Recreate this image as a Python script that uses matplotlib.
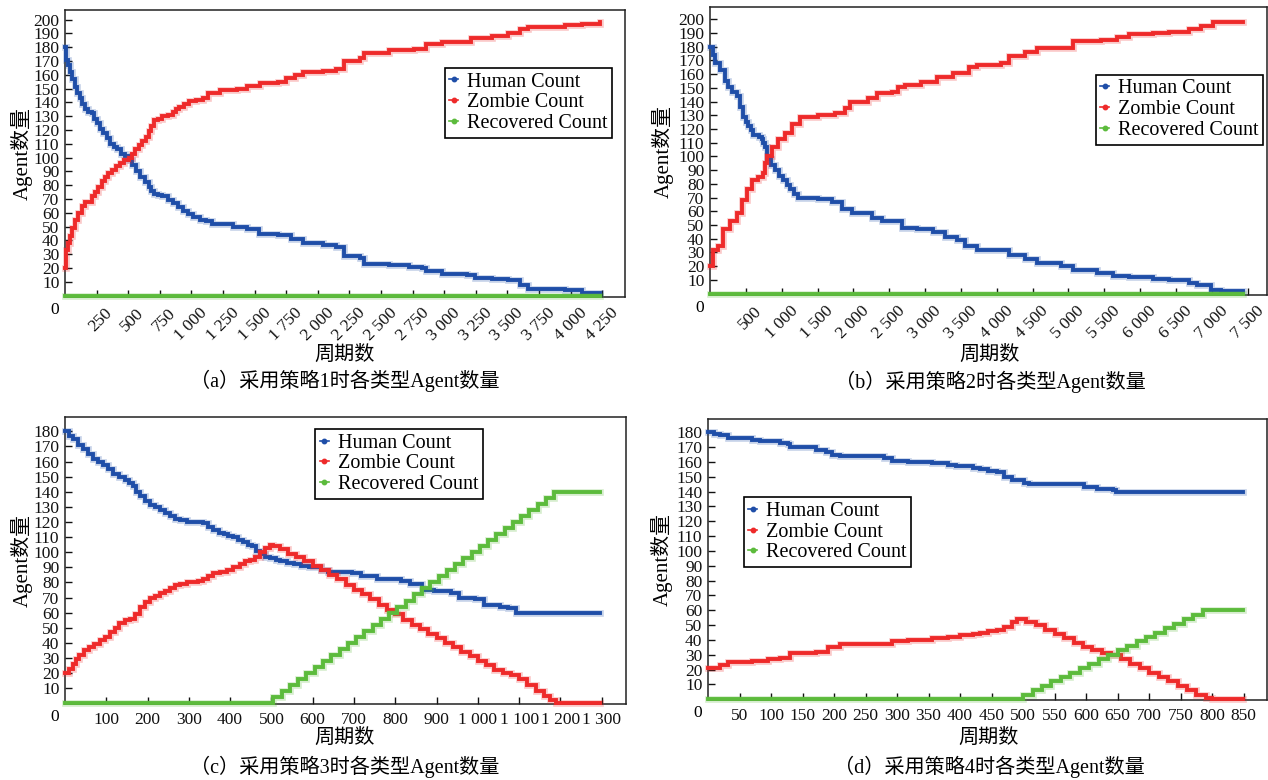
import matplotlib
matplotlib.use("Agg")
import matplotlib.pyplot as plt
from matplotlib.lines import Line2D
from matplotlib.transforms import ScaledTranslation

plt.rcParams['font.family'] = ['Liberation Serif', 'Noto Sans CJK SC']
plt.rcParams['axes.unicode_minus'] = False

# ---------------- data ----------------
SERIES_NAMES = ["Human Count", "Zombie Count", "Recovered Count"]

# (a) strategy 1
AH_X = [0, 5, 11, 20, 37, 55, 77, 97, 117, 137, 157, 180, 211, 231, 251, 278, 304, 330, 357, 384,
        411, 444, 477, 504, 531, 564, 597, 630, 664, 684, 704, 737, 771, 811, 851, 891, 931, 971,
        1011, 1064, 1117, 1160, 1331, 1437, 1531, 1687, 1784, 1882, 2044, 2141, 2206, 2336, 2368,
        2563, 2725, 2822, 2855, 2984, 3179, 3244, 3374, 3504, 3601, 3666, 3958, 4088, 4233]
AH_Y = [180, 175, 171, 167, 162, 157, 151, 147, 143, 139, 135, 133, 132, 128, 125, 121, 118, 114, 110,
        108, 106, 103, 101, 98, 95, 90, 86, 82, 79, 76, 74, 73, 72, 69, 67, 64, 61, 59, 57, 55, 54, 52,
        50, 48, 45, 44, 41, 38, 37, 35, 29, 27, 23, 22, 21, 20, 18, 16, 15, 13, 12, 11, 8, 5, 4, 2, 2]
AZ_X = [0, 5, 11, 24, 37, 57, 77, 104, 131, 157, 211, 238, 264, 290, 317, 344, 371, 404, 437, 470,
        504, 530, 557, 584, 611, 637, 664, 684, 704, 737, 771, 811, 851, 877, 904, 944, 984, 1037,
        1091, 1131, 1224, 1357, 1437, 1544, 1687, 1752, 1820, 1882, 2044, 2141, 2206, 2336, 2368,
        2563, 2757, 2855, 2984, 3212, 3374, 3504, 3601, 3666, 3958, 4088, 4233]
AZ_Y = [20, 27, 33, 38, 43, 49, 55, 60, 65, 68, 72, 75, 79, 83, 86, 89, 91, 94, 96, 98, 100, 103, 106,
        109, 112, 115, 119, 123, 127, 128, 130, 131, 133, 135, 137, 139, 141, 142, 143, 147, 149, 150,
        152, 154, 155, 158, 160, 162, 163, 164, 170, 172, 176, 178, 179, 182, 184, 187, 188, 190, 193,
        195, 196, 197, 198]
AR_X = [0, 4233]
AR_Y = [0, 0]

# (b) strategy 2
BH_X = [0, 35, 70, 140, 209, 255, 302, 372, 418, 465, 500, 535, 570, 604, 680, 721, 745, 767, 791,
        850, 907, 965, 1023, 1070, 1116, 1175, 1232, 1507, 1697, 1837, 1977, 2256, 2395, 2605, 2674,
        2888, 3111, 3279, 3446, 3558, 3725, 4060, 4172, 4395, 4562, 4897, 5064, 5399, 5622, 5845,
        6180, 6403, 6682, 6794, 6990, 7129, 7440]
BH_Y = [180, 174, 168, 163, 155, 151, 147, 144, 136, 129, 125, 122, 119, 116, 114, 113, 110, 107, 98,
        94, 90, 86, 83, 79, 76, 73, 70, 69, 67, 62, 59, 55, 53, 53, 48, 47, 45, 41, 39, 35, 32, 32, 28,
        25, 22, 20, 17, 15, 13, 12, 11, 10, 8, 6, 3, 2, 2]
BZ_X = [0, 46, 116, 186, 279, 372, 442, 512, 582, 674, 744, 768, 791, 861, 953, 1046, 1140, 1256,
        1511, 1744, 1883, 1953, 2209, 2325, 2535, 2627, 2720, 2944, 3167, 3390, 3614, 3725, 4060,
        4172, 4395, 4562, 4897, 5064, 5455, 5678, 5845, 6180, 6403, 6682, 6850, 7017, 7440]
BZ_Y = [20, 32, 35, 47, 53, 59, 68, 76, 83, 85, 88, 95, 100, 107, 113, 117, 124, 129, 130, 132, 135,
        140, 143, 146, 147, 151, 152, 154, 158, 161, 165, 167, 168, 173, 176, 179, 179, 184, 185, 187,
        189, 190, 191, 193, 195, 198, 198]
BR_X = [0, 7440]
BR_Y = [0, 0]

# (c) strategy 3
CH_X = [0, 10, 19, 31, 43, 55, 67, 80, 92, 104, 116, 130, 145, 155, 165, 173, 181, 193, 205, 218,
        230, 242, 254, 266, 278, 295, 335, 347, 359, 372, 384, 396, 408, 420, 432, 443, 453, 463, 473,
        485, 497, 510, 522, 538, 554, 572, 590, 621, 636, 696, 716, 755, 815, 835, 865, 895, 934, 954,
        994, 1014, 1054, 1074, 1093, 1297]
CH_Y = [180, 177, 175, 171, 168, 165, 162, 160, 158, 155, 152, 150, 148, 146, 144, 140, 137, 134, 131,
        130, 128, 126, 124, 122, 121, 120, 119, 117, 115, 113, 112, 111, 110, 108, 107, 105, 104, 101,
        99, 97, 96, 95, 94, 93, 92, 91, 90, 88, 87, 86, 84, 82, 81, 79, 75, 74, 73, 70, 69, 65, 64, 63,
        60, 60]
CZ_X = [0, 10, 19, 27, 35, 47, 59, 71, 84, 96, 108, 120, 132, 145, 157, 169, 181, 193, 205, 217, 230,
        242, 254, 266, 278, 295, 323, 335, 347, 359, 375, 392, 408, 424, 437, 449, 461, 473, 485, 497,
        505, 520, 540, 560, 580, 600, 620, 640, 660, 680, 700, 720, 740, 760, 780, 800, 820, 840, 860,
        880, 900, 920, 940, 960, 980, 1000, 1020, 1040, 1060, 1080, 1100, 1120, 1140, 1160, 1175,
        1190, 1297]
CZ_Y = [20, 23, 26, 29, 32, 35, 37, 39, 42, 44, 47, 50, 53, 55, 56, 59, 64, 67, 70, 71, 73, 74, 76, 78,
        79, 80, 81, 82, 84, 86, 87, 88, 90, 92, 94, 95, 97, 100, 103, 105, 104, 102, 99, 97, 94, 91, 88,
        85, 82, 78, 75, 72, 69, 65, 62, 59, 55, 52, 49, 46, 43, 40, 37, 34, 31, 28, 25, 22, 20, 19, 16,
        12, 8, 5, 2, 0, 0]
CR_X = [0, 505, 525, 545, 565, 585, 605, 625, 645, 665, 685, 705, 725, 745, 765, 785, 805, 825, 845,
        865, 885, 905, 925, 945, 965, 985, 1005, 1025, 1045, 1065, 1085, 1105, 1125, 1145, 1165, 1185,
        1297]
CR_Y = [0, 4, 8, 12, 16, 20, 24, 28, 32, 36, 40, 44, 48, 52, 56, 60, 64, 68, 72, 76, 80, 84, 88, 92,
        96, 100, 104, 108, 112, 116, 120, 124, 128, 132, 136, 140, 140]

# (d) strategy 4
DH_X = [0, 10, 19, 32, 70, 83, 114, 127, 130, 172, 187, 197, 210, 280, 292, 318, 356, 381, 394, 420,
        432, 445, 458, 470, 483, 502, 510, 585, 597, 617, 642, 648, 849]
DH_Y = [180, 179, 178, 176, 175, 174, 173, 172, 170, 168, 167, 165, 164, 163, 161, 160, 159, 158, 157,
        156, 155, 154, 153, 150, 148, 146, 145, 145, 143, 142, 141, 140, 140]
DZ_X = [0, 19, 32, 70, 95, 114, 130, 172, 191, 210, 280, 292, 318, 356, 381, 400, 420, 432, 445, 458,
        470, 483, 490, 505, 520, 535, 550, 565, 580, 595, 610, 625, 640, 655, 670, 685, 700, 715, 730,
        745, 760, 775, 790, 800, 849]
DZ_Y = [21, 23, 25, 26, 27, 28, 31, 32, 35, 37, 37, 39, 40, 41, 42, 43, 44, 45, 46, 47, 49, 52, 54, 52,
        50, 47, 44, 41, 38, 35, 33, 31, 30, 27, 24, 21, 18, 15, 12, 9, 6, 3, 1, 0, 0]
DR_X = [0, 500, 515, 530, 545, 560, 575, 590, 605, 620, 635, 650, 665, 680, 695, 710, 725, 740, 755,
        770, 785, 849]
DR_Y = [0, 3, 6, 9, 12, 15, 18, 21, 24, 27, 30, 33, 36, 39, 42, 45, 48, 51, 54, 57, 60, 60]

# tick values
Y_TICKS_AB = [10, 20, 30, 40, 50, 60, 70, 80, 90, 100, 110, 120, 130, 140, 150, 160, 170, 180, 190, 200]
Y_TICKS_CD = [10, 20, 30, 40, 50, 60, 70, 80, 90, 100, 110, 120, 130, 140, 150, 160, 170, 180]
X_TICKS_A = [250, 500, 750, 1000, 1250, 1500, 1750, 2000, 2250, 2500, 2750, 3000, 3250, 3500, 3750,
             4000, 4250]
X_TICKS_B = [500, 1000, 1500, 2000, 2500, 3000, 3500, 4000, 4500, 5000, 5500, 6000, 6500, 7000, 7500]
X_TICKS_C = [100, 200, 300, 400, 500, 600, 700, 800, 900, 1000, 1100, 1200, 1300]
X_TICKS_D = [50, 100, 150, 200, 250, 300, 350, 400, 450, 500, 550, 600, 650, 700, 750, 800, 850]

CAPTIONS = ["（a）采用策略1时各类型Agent数量", "（b）采用策略2时各类型Agent数量",
            "（c）采用策略3时各类型Agent数量", "（d）采用策略4时各类型Agent数量"]
X_LABEL = "周期数"
Y_LABEL = "Agent数量"

# ---------------- style ----------------
COLORS = ['#1f4ea8', '#ee2a2a', '#5cbb3c']
W, H = 1268, 780
fig = plt.figure(figsize=(W / 100, H / 100), dpi=100)


def fmt(v):
    return f"{v:,}".replace(',', ' ')


panels = [
    dict(box=(65, 10, 625, 297), xlim=(0, 4430), ylim=(-1, 207),
         series=[(AH_X, AH_Y), (AZ_X, AZ_Y), (AR_X, AR_Y)], xt=X_TICKS_A, yt=Y_TICKS_AB, rot=True,
         leg=('upper right', (0.977, 0.798)), ylab_x=22, xlab_y=355, cap_y=381, cx=345),
    dict(box=(710, 7, 1267, 295), xlim=(0, 7770), ylim=(-1, 209),
         series=[(BH_X, BH_Y), (BZ_X, BZ_Y), (BR_X, BR_Y)], xt=X_TICKS_B, yt=Y_TICKS_AB, rot=True,
         leg=('upper right', (0.993, 0.764)), ylab_x=663, xlab_y=355, cap_y=382, cx=990),
    dict(box=(65, 417, 626, 704), xlim=(0, 1359), ylim=(-0.5, 189.5),
         series=[(CH_X, CH_Y), (CZ_X, CZ_Y), (CR_X, CR_Y)], xt=X_TICKS_C, yt=Y_TICKS_CD, rot=False,
         leg=('upper left', (0.446, 0.958)), ylab_x=22, xlab_y=738, cap_y=767, cx=345),
    dict(box=(708, 419, 1267, 700), xlim=(0, 887), ylim=(-0.5, 189),
         series=[(DH_X, DH_Y), (DZ_X, DZ_Y), (DR_X, DR_Y)], xt=X_TICKS_D, yt=Y_TICKS_CD, rot=False,
         leg=('upper left', (0.064, 0.722)), ylab_x=662, xlab_y=738, cap_y=767, cx=989),
]

for p, cap in zip(panels, CAPTIONS):
    l, t, r, b = p['box']
    ax = fig.add_axes([l / W, 1 - b / H, (r - l) / W, (b - t) / H])
    for (xs, ys), c, z in zip(p['series'], COLORS, [3, 4, 5]):
        ax.plot(xs, ys, drawstyle='steps-post', color=c, lw=4.8, alpha=0.25,
                solid_joinstyle='miter', clip_on=False, zorder=z)
        ax.plot(xs, ys, drawstyle='steps-post', color=c, lw=2.8,
                solid_joinstyle='miter', clip_on=False, zorder=z)
    ax.set_xlim(*p['xlim'])
    ax.set_ylim(*p['ylim'])
    ax.set_yticks(p['yt'])
    ax.set_yticklabels([str(v) for v in p['yt']])
    ax.set_xticks(p['xt'])
    ax.set_xticklabels([fmt(v) for v in p['xt']])
    ax.tick_params(direction='in', length=5, width=1.0, labelsize=12.5, colors='#111111')
    ax.tick_params(axis='y', pad=4)
    for s in ax.spines.values():
        s.set_linewidth(1.1)
        s.set_color('#222222')
    ax.tick_params(axis='x', pad=6)
    if p['rot']:
        off = ScaledTranslation(8 / 100, 0, fig.dpi_scale_trans)
        for lbl in ax.get_xticklabels():
            lbl.set_rotation(45)
            lbl.set_ha('right')
            lbl.set_va('top')
            lbl.set_rotation_mode('anchor')
            lbl.set_transform(lbl.get_transform() + off)

    handles = [Line2D([0], [0], color=c, lw=1.2, marker='o', ms=3.2) for c in COLORS]
    loc, anchor = p['leg']
    leg = ax.legend(handles, SERIES_NAMES, loc=loc, bbox_to_anchor=anchor, fontsize=14.5,
                    frameon=True, fancybox=False, edgecolor='black', framealpha=1,
                    borderpad=0.22, labelspacing=0.09, handlelength=0.45, handletextpad=0.45,
                    borderaxespad=0)
    leg.get_frame().set_linewidth(1.2)
    leg.set_zorder(10)

    # origin label "0"
    fig.text((l - 10) / W, 1 - (b + 13) / H, "0", fontsize=12.5, ha='center', va='center')
    # axis labels and caption
    fig.text(p['ylab_x'] / W, 1 - ((t + b) / 2) / H, Y_LABEL, rotation=90, fontsize=15,
             ha='center', va='center')
    fig.text(p['cx'] / W, 1 - p['xlab_y'] / H, X_LABEL, fontsize=14.5, ha='center', va='center')
    fig.text(p['cx'] / W, 1 - p['cap_y'] / H, cap, fontsize=14.5, ha='center', va='center')

fig.savefig("out.png", dpi=100, facecolor='white')
